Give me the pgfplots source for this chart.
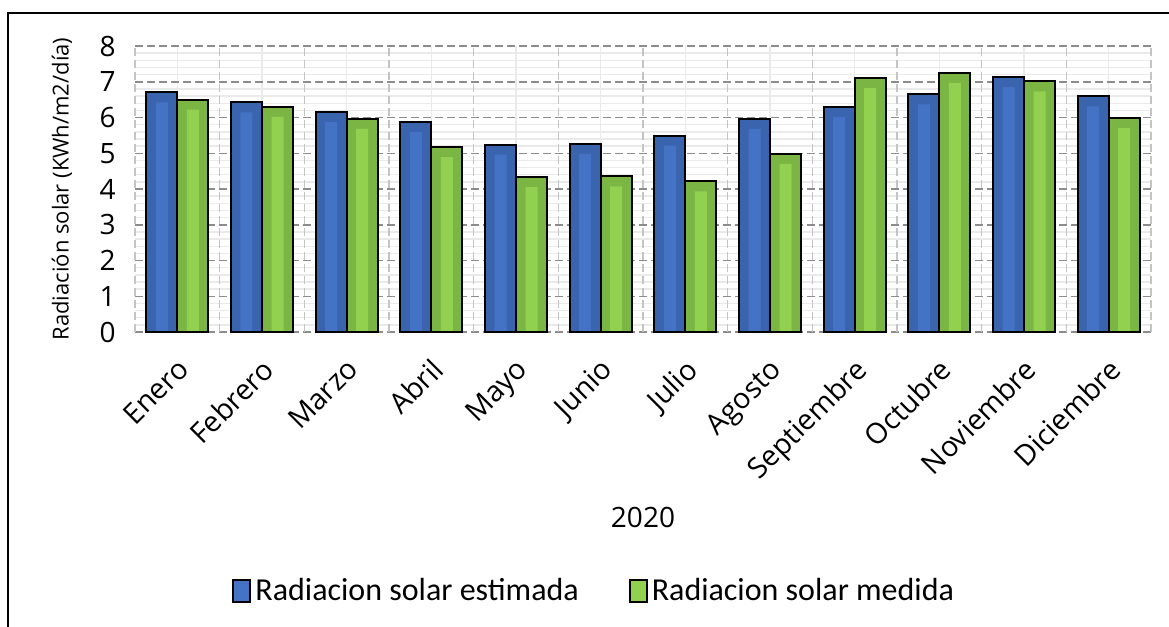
\documentclass[border=0pt]{standalone}
\usepackage{fontspec}
\setmainfont{Open Sans}
\newfontfamily\carlito{Carlito}
\usepackage{pgfplots}
\usepackage{pgfplotstable}
\pgfplotsset{compat=1.18}
\definecolor{bluedark}{HTML}{3B64AE}
\definecolor{bluelight}{HTML}{4472C4}
\definecolor{greendark}{HTML}{7BB645}
\definecolor{greenlight}{HTML}{92D050}
\definecolor{gridmajor}{HTML}{8C8C8C}
\definecolor{gridvert}{HTML}{C4C4C4}
\definecolor{gridminor}{HTML}{EAEAEA}
\pgfplotstableread{
x est med
0 6.70 6.50
1 6.42 6.30
2 6.15 5.96
3 5.87 5.17
4 5.24 4.33
5 5.26 4.35
6 5.49 4.21
7 5.96 4.98
8 6.29 7.10
9 6.65 7.25
10 7.13 7.01
11 6.59 5.98
}\data
\begin{document}
\begin{tikzpicture}
\useasboundingbox (0,0) rectangle (584.5pt,313.5pt);
\begin{axis}[
  at={(67.5pt,147.5pt)}, anchor=south west, scale only axis,
  width=508pt, height=143pt,
  xmin=-0.5, xmax=11.5, ymin=0, ymax=8,
  ybar=0pt, bar width=15.5pt,
  axis line style={draw=none}, tick style={draw=none},
  /pgf/number format/assume math mode=true,
  xtick={0,...,11},
  xticklabels={Enero,Febrero,Marzo,Abril,Mayo,Junio,Julio,Agosto,Septiembre,Octubre,Noviembre,Diciembre},
  xticklabel style={rotate=45, anchor=north east, inner sep=1pt, yshift=-4pt, xshift=-5pt, font=\fontsize{14.3pt}{16pt}\selectfont},
  ytick={0,...,8},
  yticklabel style={font=\fontsize{14pt}{16pt}\selectfont, inner sep=0pt, xshift=-9.5pt},
  grid=both, minor y tick num=4,
  major x grid style={color=gridminor, line width=0.7pt, solid},
  minor y grid style={color=gridminor, line width=0.7pt, solid},
  major y grid style={color=gridmajor, line width=0.75pt, dash pattern=on 4pt off 2pt},
  extra x ticks={-0.5,0.5,...,11.5}, extra x tick labels={},
  extra x tick style={grid=major, major x grid style={color=gridvert, line width=0.75pt, dash pattern=on 4pt off 2pt}},
  ylabel={Radiación solar (KWh/m2/día)},
  every axis y label/.style={at={(axis description cs:0,0.5)}, xshift=-36.5pt, rotate=90, anchor=center, font=\fontsize{11pt}{13pt}\selectfont},
  xlabel={2020},
  every axis x label/.style={at={(axis description cs:0.5,0)}, anchor=center, yshift=-92.5pt, font=\fontsize{14pt}{16pt}\selectfont},
  legend style={at={(0.0955,-0.905)}, anchor=west, draw=none, fill=none, inner sep=0pt,
    font=\carlito\fontsize{16pt}{18pt}\selectfont,
    /tikz/every even column/.append style={column sep=23pt}},
  legend columns=2,
  legend image code/.code={\draw[#1, line width=1pt, draw=black] (0pt,-5.5pt) rectangle (8.5pt,5.5pt);},
]
% estimated: outer band, inner glow, outline
\addplot[forget plot, draw=none, fill=bluedark, bar shift=-7.75pt] table[x=x,y=est]{\data};
\addplot[forget plot, draw=none, fill=bluelight, bar width=6pt, bar shift=-7.75pt, yshift=-5pt] table[x=x,y=est]{\data};
\addplot[forget plot, draw=black, line width=1pt, fill=none, bar shift=-7.75pt] table[x=x,y=est]{\data};
% measured
\addplot[forget plot, draw=none, fill=greendark, bar shift=7.75pt] table[x=x,y=med]{\data};
\addplot[forget plot, draw=none, fill=greenlight, bar width=6pt, bar shift=7.75pt, yshift=-5pt] table[x=x,y=med]{\data};
\addplot[forget plot, draw=black, line width=1pt, fill=none, bar shift=7.75pt] table[x=x,y=med]{\data};
\addlegendimage{fill=bluelight}
\addlegendentry{Radiacion solar estimada}
\addlegendimage{fill=greenlight}
\addlegendentry{Radiacion solar medida}
\end{axis}
\draw[line width=1pt] (4pt,-2pt) -- (4pt,307pt) -- (590pt,307pt);
\end{tikzpicture}
\end{document}
